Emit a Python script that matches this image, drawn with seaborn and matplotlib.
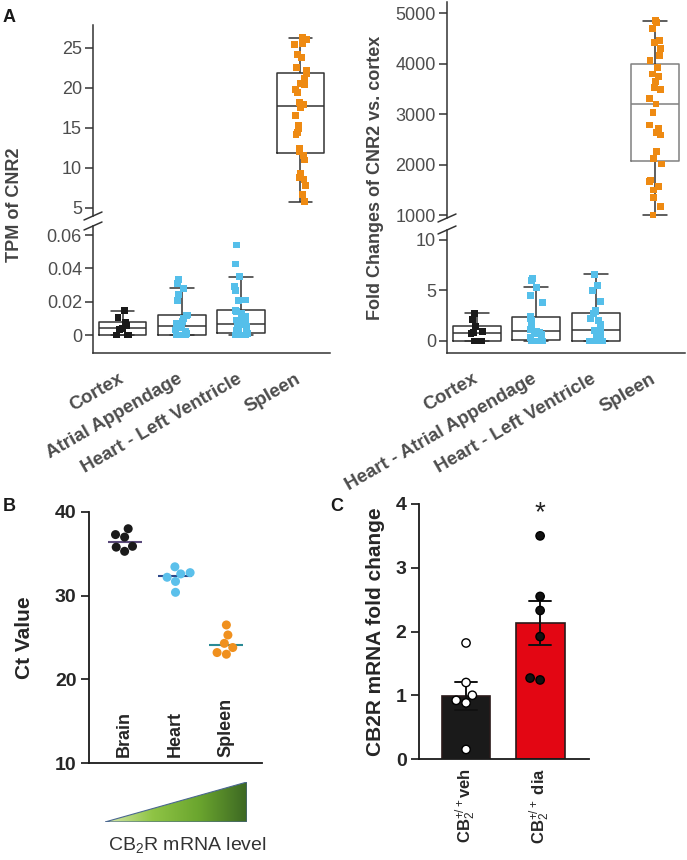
import numpy as np
import pandas as pd
import matplotlib
matplotlib.use("Agg")
import matplotlib.pyplot as plt
from matplotlib.colors import LinearSegmentedColormap
from matplotlib.lines import Line2D
from matplotlib.patches import Polygon
import matplotlib.transforms as mtransforms
import seaborn as sns

# ---------------- data ----------------
tissues_tpm = ["Cortex", "Atrial Appendage", "Heart - Left Ventricle", "Spleen"]
tissues_fold = ["Cortex", "Heart - Atrial Appendage", "Heart - Left Ventricle", "Spleen"]

tpm_cortex = [0, 0, 0, 0.0035, 0.004, 0.0055, 0.0078, 0.0105, 0.0145]
tpm_atrial = [0, 0, 0, 0, 0, 0, 0.001, 0.002, 0.003, 0.0045, 0.0055, 0.007, 0.008,
              0.010, 0.0115, 0.012, 0.0205, 0.0245, 0.028, 0.031, 0.0334]
tpm_lv = [0, 0, 0, 0, 0, 0, 0, 0.001, 0.002, 0.003, 0.004, 0.005, 0.0055, 0.006,
          0.0064, 0.008, 0.009, 0.010, 0.011, 0.013, 0.014, 0.0148, 0.0205, 0.021,
          0.0266, 0.029, 0.035, 0.0426, 0.054]
tpm_spleen = [26.3, 26.1, 25.6, 25.4, 24.2, 23.8, 22.6, 22.2, 21.8, 21.2, 20.6, 20.4,
              19.8, 19.4, 18.2, 17.9, 17.6, 16.6, 15.3, 14.9, 14.4, 14.2, 12.5, 12.0,
              11.6, 11.0, 9.3, 8.8, 8.6, 7.8, 6.7, 5.8]

fold_cortex = [0, 0, 0, 0.7, 0.8, 0.95, 1.45, 2.1, 2.75]
fold_atrial = [0, 0, 0, 0, 0, 0, 0.3, 0.6, 0.75, 0.85, 0.95, 1.1, 1.4, 1.6, 2.0,
               2.2, 2.4, 3.8, 4.55, 5.3, 5.95, 6.2]
fold_lv = [0, 0, 0, 0, 0, 0, 0, 0.3, 0.5, 0.7, 0.9, 1.05, 1.15, 1.26, 1.6, 2.0,
           2.25, 2.7, 2.9, 3.0, 3.9, 4.98, 5.45, 6.63]
fold_spleen = [4848, 4808, 4697, 4465, 4413, 4300, 4168, 4056, 3925, 3792, 3739,
               3640, 3528, 3489, 3310, 3198, 3033, 2782, 2716, 2630, 2584, 2254,
               2122, 2010, 1693, 1660, 1561, 1495, 1350, 1164, 1000]

ct_tissues = ["Brain", "Heart", "Spleen"]
ct_brain = [37.3, 37.0, 38.0, 35.3, 35.9, 35.8]
ct_heart = [32.6, 32.75, 33.45, 31.7, 32.2, 30.4]
ct_spleen = [26.5, 25.3, 23.0, 23.8, 24.3, 23.2]

groups_c = [r"CB$_2^{+/+}$veh", r"CB$_2^{+/+}$ dia"]
fold_veh = [1.82, 1.2, 0.92, 1.0, 0.88, 0.15]
fold_dia = [3.5, 2.55, 2.33, 1.92, 1.24, 1.27]

tissue_colors = ["#1a1a1a", "#55bfea", "#55bfea", "#ee8a12"]
ct_colors = ["#1a1a1a", "#5bc0eb", "#f0901e"]
ct_line_colors = ["#5a4a7a", "#2f4a8a", "#2a8a95"]

# ---------------- style ----------------
sns.set_style("ticks")
plt.rcParams["font.family"] = ["Liberation Sans", "DejaVu Sans"]
plt.rcParams["mathtext.fontset"] = "custom"
plt.rcParams["mathtext.rm"] = "Liberation Sans"
plt.rcParams["mathtext.it"] = "Liberation Sans:italic"
plt.rcParams["mathtext.bf"] = "Liberation Sans:bold"
np.random.seed(7)

W, H = 687, 860
fig = plt.figure(figsize=(W / 100, H / 100), dpi=100)


def px_axes(left, right, top, bottom):
    return fig.add_axes([left / W, 1 - bottom / H, (right - left) / W, (bottom - top) / H])


def long_df(order, arrays, name):
    rows = []
    for t, vals in zip(order, arrays):
        rows += [(t, v) for v in vals]
    return pd.DataFrame(rows, columns=["tissue", name])


def box_strip(ax, df, order, col, box_col="#333333"):
    sns.boxplot(data=df, x="tissue", y=col, order=order, fill=False, color="#333333",
                width=0.8, linewidth=1.1, showfliers=False, whis=1.5, ax=ax,
                boxprops={"color": box_col}, medianprops={"color": box_col})
    sns.stripplot(data=df, x="tissue", y=col, order=order, hue="tissue", hue_order=order,
                  palette=tissue_colors, marker="s", size=5, jitter=0.11, legend=False,
                  ax=ax, zorder=4)
    ax.set_xlim(-0.5, 3.5)
    ax.set_xlabel("")
    ax.set_ylabel("")
    ax.tick_params(axis="y", length=6, width=1.1, color="#333333", labelsize=13,
                   labelcolor="#4d4d4d", pad=2)
    for s in ["left", "bottom"]:
        ax.spines[s].set_color("#333333")
        ax.spines[s].set_linewidth(1.1)
    sns.despine(ax=ax)


def slash(xc, yc):
    fig.add_artist(Line2D([(xc - 9) / W, (xc + 9) / W], [1 - (yc + 4) / H, 1 - (yc - 4) / H],
                          transform=fig.transFigure, color="#333333", lw=1.1))


def panel_a(x0, x1, top_up, bot_up, top_lo, df, order, col, ylim_up, ylim_lo,
            yt_up, yt_lo, yt_lo_lab, spleen_box):
    ax_up = px_axes(x0, x1, top_up, bot_up)
    ax_lo = px_axes(x0, x1, top_lo, 353)
    box_strip(ax_up, df, order, col, box_col=spleen_box)
    box_strip(ax_lo, df, order, col)
    ax_up.set_ylim(*ylim_up)
    ax_lo.set_ylim(*ylim_lo)
    ax_up.set_yticks(yt_up)
    ax_lo.set_yticks(yt_lo)
    ax_lo.set_yticklabels(yt_lo_lab)
    ax_up.spines["bottom"].set_visible(False)
    ax_up.tick_params(axis="x", bottom=False, labelbottom=False)
    ax_lo.tick_params(axis="x", bottom=False, pad=9)
    ax_lo.set_xticks(range(4))
    ax_lo.set_xticklabels(order, rotation=30, ha="right", rotation_mode="anchor",
                          fontsize=13.5, fontweight="bold", color="#4d4d4d")
    shift = mtransforms.ScaledTranslation(-5 / 100, 0, fig.dpi_scale_trans)
    for lbl in ax_lo.get_xticklabels():
        lbl.set_transform(lbl.get_transform() + shift)
    slash(x0, bot_up)
    slash(x0, top_lo)
    return ax_up, ax_lo


# ---------------- panel A ----------------
df_tpm = long_df(tissues_tpm, [tpm_cortex, tpm_atrial, tpm_lv, tpm_spleen], "tpm")
df_fold = long_df(tissues_fold, [fold_cortex, fold_atrial, fold_lv, fold_spleen], "fold")

panel_a(93, 330, 25, 216, 226, df_tpm, tissues_tpm, "tpm", (4.0, 27.875),
        (-0.0108, 0.0654), [5, 10, 15, 20, 25], [0, 0.02, 0.04, 0.06],
        ["0", "0.02", "0.04", "0.06"], "#333333")
panel_a(447, 685, 2, 218, 230, df_fold, tissues_fold, "fold", (941, 5218),
        (-1.19, 10.99), [1000, 2000, 3000, 4000, 5000], [0, 5, 10],
        ["0", "5", "10"], "#808080")

fig.text(15 / W, 1 - 205 / H, "TPM of CNR2", rotation=90, ha="center", va="center",
         fontsize=13, fontweight="bold", color="#444444")
fig.text(376 / W, 1 - 178 / H, "Fold Changes of CNR2 vs. cortex", rotation=90,
         ha="center", va="center", fontsize=13, fontweight="bold", color="#444444")

# ---------------- panel B ----------------
df_ct = long_df(ct_tissues, [ct_brain, ct_heart, ct_spleen], "ct")
axB = px_axes(89, 262, 512, 763)
sns.swarmplot(data=df_ct, x="tissue", y="ct", hue="tissue", palette=ct_colors,
              size=6.5, legend=False, ax=axB)
sns.pointplot(data=df_ct, x="tissue", y="ct", hue="tissue", palette=ct_line_colors,
              estimator="median", errorbar=None, marker="_", markersize=25,
              markeredgewidth=1.5, linestyle="none", legend=False, ax=axB)
axB.set_xlim(-0.7, 2.7)
axB.set_ylim(10, 40)
axB.set_yticks([10, 20, 30, 40])
axB.set_xticks([])
axB.set_xlabel("")
axB.set_ylabel("Ct Value", fontsize=15, fontweight="bold", labelpad=15)
axB.tick_params(axis="y", length=6, width=1.3, labelsize=14, pad=3)
for lbl in axB.get_yticklabels():
    lbl.set_fontweight("bold")
for s in ["left", "bottom"]:
    axB.spines[s].set_linewidth(1.3)
    axB.spines[s].set_color("#1a1a1a")
sns.despine(ax=axB)
for i, t in enumerate(ct_tissues):
    axB.text(i, 10.7, t, rotation=90, ha="center", va="bottom", fontsize=13,
             fontweight="bold")

# gradient triangle
axG = px_axes(105, 247, 782, 822)
cmap = LinearSegmentedColormap.from_list("g", ["#d8e9ae", "#8fc445", "#6aa52e", "#3d6823"])
grad = np.linspace(0, 1, 256).reshape(1, -1)
im = axG.imshow(grad, aspect="auto", cmap=cmap, extent=(0, 1, 0, 1))
tri = Polygon([(0, 0), (1, 0), (1, 1)], closed=True, facecolor="none",
              edgecolor="#4a6790", lw=0.8)
axG.add_patch(tri)
im.set_clip_path(tri)
axG.set_xlim(0, 1)
axG.set_ylim(0, 1)
axG.axis("off")
fig.text(187 / W, 1 - 845 / H, r"CB$_2$R mRNA level", ha="center", va="center",
         fontsize=14, color="#333333")

# ---------------- panel C ----------------
df_c = pd.DataFrame({"group": [groups_c[0]] * len(fold_veh) + [groups_c[1]] * len(fold_dia),
                     "fold": fold_veh + fold_dia})
axC = px_axes(419, 589, 504, 759)
sns.barplot(data=df_c, x="group", y="fold", hue="group", palette=["#1a1a1a", "#e30613"],
            saturation=1, errorbar="se", capsize=0.3,
            err_kws={"color": "#111111", "linewidth": 1.4},
            width=0.66, edgecolor="#2a1a1a", linewidth=1.2, legend=False, ax=axC)
sns.swarmplot(data=df_c, x="group", y="fold", hue="group", palette=["white", "#111111"],
              edgecolor="black", linewidth=1.0, size=6, legend=False, ax=axC, zorder=5)
axC.set_xlim(-0.635, 1.66)
axC.set_ylim(0, 4)
axC.set_yticks([0, 1, 2, 3, 4])
axC.set_xlabel("")
axC.set_ylabel("CB2R mRNA fold change", fontsize=15, fontweight="bold", labelpad=8)
axC.set_xticks([0, 1])
axC.set_xticklabels(groups_c, rotation=90, fontsize=12, fontweight="bold")
axC.tick_params(axis="x", bottom=False, pad=3)
axC.tick_params(axis="y", length=6, width=1.3, labelsize=14, pad=3)
for lbl in axC.get_yticklabels():
    lbl.set_fontweight("bold")
for s in ["left", "bottom"]:
    axC.spines[s].set_linewidth(1.3)
    axC.spines[s].set_color("#1a1a1a")
sns.despine(ax=axC)
axC.text(1, 3.65, "*", ha="center", va="bottom", fontsize=20, color="#222222")

# panel letters
for letter, x, y in [("A", 3, 9), ("B", 3, 498), ("C", 330, 498)]:
    fig.text(x / W, 1 - y / H, letter, ha="left", va="top", fontsize=13,
             fontweight="bold", color="#1a1a1a")

fig.savefig("out.png", dpi=100)
